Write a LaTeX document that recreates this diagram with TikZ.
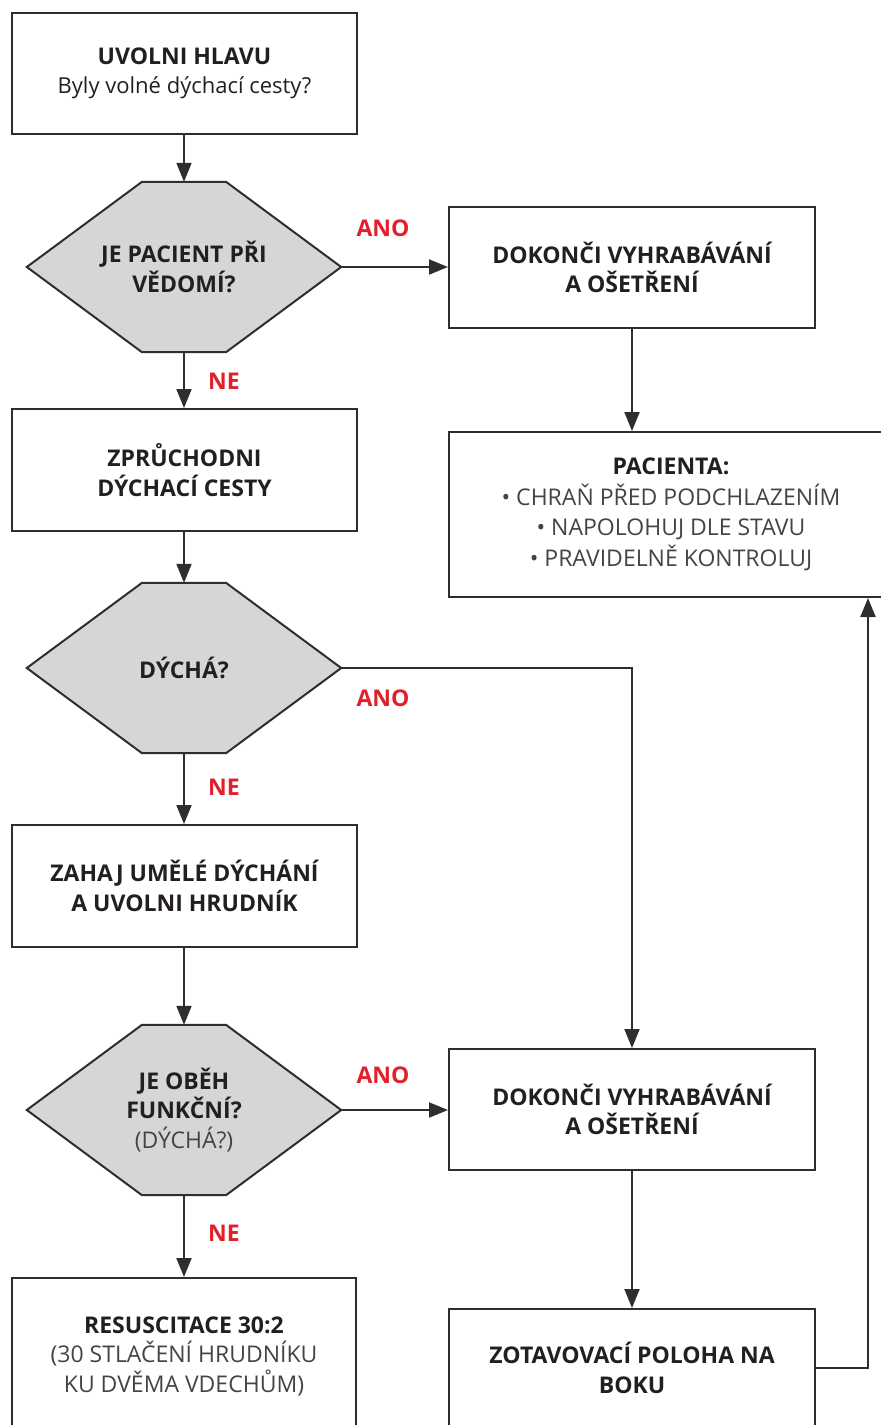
\documentclass[tikz,border=0pt]{standalone}
\usepackage{fontspec}
\setmainfont{Open Sans}
\usetikzlibrary{arrows.meta,backgrounds}
\definecolor{ln}{HTML}{2E2E2E}
\definecolor{gr}{HTML}{D6D6D6}
\definecolor{rd}{HTML}{E0202A}
\definecolor{tx}{HTML}{231F20}
\definecolor{lt}{HTML}{444444}
\tikzset{
  box/.style={draw=ln, line width=2pt, fill=white, align=center, inner sep=0pt,
    text=tx, font=\fontsize{23}{29.5}\selectfont\bfseries},
  hexnode/.style={minimum width=314pt, minimum height=170pt, inner sep=0pt, align=center,
    text=tx, font=\fontsize{23}{29.5}\selectfont\bfseries},
  hexa/.style={draw=ln, line width=2pt, fill=gr},
  lbl/.style={text=rd, inner sep=0pt, font=\fontsize{23}{26}\selectfont\bfseries},
  arr/.style={draw=ln, line width=2pt, -{Triangle[length=19pt,width=15pt]}}
}
\newcommand{\lite}[1]{{\mdseries\color{lt}#1}}
\begin{document}
\begin{tikzpicture}[x=1pt,y=-1pt]
\clip (0,0) rectangle (881,1425);
% nodes
\node[box, minimum width=345pt, minimum height=121pt] (b1) at (184.5,73.5)
  {UVOLNI HLAVU\\{\mdseries\fontsize{22}{29.5}\selectfont Byly volné dýchací cesty?}};
\node[hexnode] (d1) at (184,267) {JE PACIENT PŘI\\VĚDOMÍ?};
\node[box, minimum width=366pt, minimum height=121pt] (b2) at (632,267.5)
  {DOKONČI VYHRABÁVÁNÍ\\A OŠETŘENÍ};
\node[box, minimum width=444pt, minimum height=165pt, font=\fontsize{23}{30.5}\selectfont\bfseries] (b3) at (671,514.5)
  {PACIENTA:\\\lite{• CHRAŇ PŘED PODCHLAZENÍM}\\\lite{• NAPOLOHUJ DLE STAVU}\\\lite{• PRAVIDELNĚ KONTROLUJ}};
\node[box, minimum width=345pt, minimum height=122pt] (b4) at (184.5,470)
  {ZPRŮCHODNI\\DÝCHACÍ CESTY};
\node[hexnode] (d2) at (184,668) {DÝCHÁ?};
\node[box, minimum width=345pt, minimum height=122pt] (b5) at (184.5,886)
  {ZAHAJ UMĚLÉ DÝCHÁNÍ\\A UVOLNI HRUDNÍK};
\node[hexnode] (d3) at (184,1110) {JE OBĚH\\FUNKČNÍ?\\\lite{(DÝCHÁ?)}};
\node[box, minimum width=366pt, minimum height=121pt] (b6) at (632,1109.5)
  {DOKONČI VYHRABÁVÁNÍ\\A OŠETŘENÍ};
\node[box, minimum width=344pt, minimum height=156pt] (b7) at (184,1356)
  {RESUSCITACE 30:2\\\lite{(30 STLAČENÍ HRUDNÍKU}\\\lite{KU DVĚMA VDECHŮM)}};
\node[box, minimum width=366pt, minimum height=118pt] (b8) at (632,1368)
  {ZOTAVOVACÍ POLOHA NA\\BOKU};
% hexagons
\begin{scope}[on background layer]
\fill[white] (0,0) rectangle (881,1425);
\foreach \d in {d1,d2,d3}
  \draw[hexa] (\d.west) -- ([xshift=-42pt]\d.north) -- ([xshift=42pt]\d.north)
    -- (\d.east) -- ([xshift=42pt]\d.south) -- ([xshift=-42pt]\d.south) -- cycle;
\end{scope}
% labels
\node[lbl] (a1) at (383,228) {ANO};
\node[lbl] (n1) at (224,381) {NE};
\node[lbl] (a2) at (383,698) {ANO};
\node[lbl] (n2) at (224,787) {NE};
\node[lbl] (a3) at (383,1075) {ANO};
\node[lbl] (n3) at (224,1233) {NE};
% connectors
\coordinate (rr) at (868,0);
\draw[arr] (b1.south -| d1.north) -- (d1.north);
\draw[arr] (d1.east) -- (d1.east -| b2.west);
\draw[arr] (b2.south) -- (b2.south |- b3.north);
\draw[arr] (d1.south) -- (d1.south |- b4.north);
\draw[arr] (b4.south -| d2.north) -- (d2.north);
\draw[arr] (d2.east) -| (b6.north);
\draw[arr] (d2.south) -- (d2.south |- b5.north);
\draw[arr] (b5.south -| d3.north) -- (d3.north);
\draw[arr] (d3.east) -- (d3.east -| b6.west);
\draw[arr] (d3.south) -- (d3.south |- b7.north);
\draw[arr] (b6.south) -- (b8.north);
\draw[arr] (b8.east) -| (b3.south -| rr);
\end{tikzpicture}
\end{document}
